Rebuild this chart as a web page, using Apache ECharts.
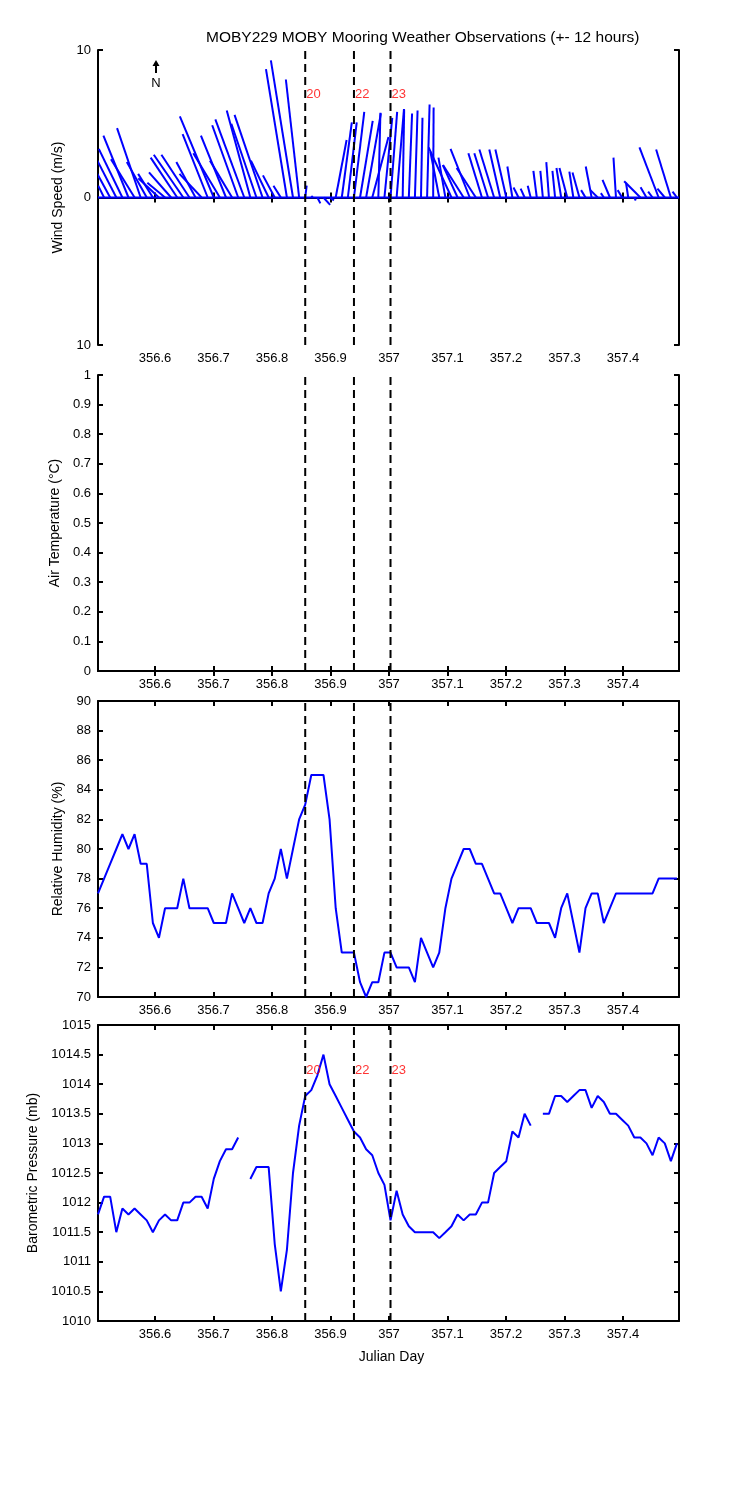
<!DOCTYPE html>
<html><head><meta charset="utf-8">
<script src="https://cdn.jsdelivr.net/npm/echarts@6/dist/echarts.min.js"></script>
<style>html,body{margin:0;padding:0;background:#fff}#c{width:750px;height:1500px}</style>
</head><body><div id="c"></div>
<script>
// ---------- DATA ----------
const titleText = 'MOBY229 MOBY Mooring Weather Observations (+- 12 hours)';
const xTickDays = [356.6, 356.7, 356.8, 356.9, 357.0, 357.1, 357.2, 357.3, 357.4];
const eventDays = [356.8568, 356.9401, 357.0026];
const eventLabels = ['20', '22', '23'];
const times = [
356.5026,356.5130,356.5234,356.5339,356.5443,356.5547,356.5651,356.5755,356.5859,356.5964,
356.6068,356.6172,356.6276,356.6380,356.6484,356.6589,356.6693,356.6797,356.6901,356.7005,
356.7109,356.7214,356.7318,356.7422,356.7526,356.7630,356.7734,356.7839,356.7943,356.8047,
356.8151,356.8255,356.8359,356.8464,356.8568,356.8672,356.8776,356.8880,356.8984,356.9089,
356.9193,356.9297,356.9401,356.9505,356.9609,356.9714,356.9818,356.9922,357.0026,357.0130,
357.0234,357.0339,357.0443,357.0547,357.0651,357.0755,357.0859,357.0964,357.1068,357.1172,
357.1276,357.1380,357.1484,357.1589,357.1693,357.1797,357.1901,357.2005,357.2109,357.2214,
357.2318,357.2422,357.2526,357.2630,357.2734,357.2839,357.2943,357.3047,357.3151,357.3255,
357.3359,357.3464,357.3568,357.3672,357.3776,357.3880,357.3984,357.4089,357.4193,357.4297,
357.4401,357.4505,357.4609,357.4714,357.4818,357.4922];
// wind components (m/s): east (u) and north (v)
const windU = [
-0.5,-0.4,-1.2,-1.8,-1.6,-1.7,-1.6,-1.6,-1.35,-1.0,
-1.4,-1.2,-1.5,-1.8,-2.0,-1.9,-1.3,-1.5,-1.7,-2.3,
-1.8,-1.7,-1.5,-1.76,-1.96,-1.6,-1.7,-1.9,-1.2,-0.8,
-0.5,-1.42,-1.5,-0.9,0.1,0.1,0.2,0.45,0.3,0.74,
0.68,0.6,0.7,0.86,1.0,1.1,0.14,0.53,0.45,0.5,
0.1,0.22,0.18,0.1,0.17,0.03,-0.6,-0.47,-1.55,-1.0,
-1.4,-1.3,-1.3,-0.92,-0.93,-1.0,-0.74,-0.74,-0.34,-0.34,
-0.27,-0.2,-0.23,-0.17,-0.18,-0.18,-0.32,-0.53,-0.27,-0.47,
-0.3,-0.4,-0.5,-0.2,-0.5,-0.17,-0.3,-0.15,0.1,-1.1,
-0.4,-0.3,-1.3,-0.5,-1.0,-0.3];
const windV = [
0.8,0.8,2.2,3.5,3.3,4.2,2.6,4.7,2.4,1.6,
1.3,1.0,1.7,2.7,2.9,2.9,2.4,1.6,4.3,5.5,
3.0,4.2,2.5,4.9,5.3,5.9,5.0,5.6,2.5,1.5,
0.8,8.7,9.3,8.0,0.8,0.1,-0.4,-0.5,-0.2,3.9,
5.1,5.1,5.8,5.2,5.7,4.1,5.75,5.4,5.8,6.0,
5.95,5.7,5.9,5.4,6.3,6.1,3.1,2.7,3.4,2.2,
2.2,3.3,2.0,3.0,3.0,3.25,3.25,3.25,2.1,0.68,
0.6,0.8,1.8,1.8,2.4,1.8,2.0,2.0,1.75,1.7,
0.5,2.1,0.5,0.3,1.2,2.7,0.5,1.0,-0.2,1.1,
0.7,0.4,3.4,0.6,3.25,0.4];
const airTemp = []; // no air temperature data reported
const relHum = [
77,78,79,80,81,80,81,79,79,75,
74,76,76,76,78,76,76,76,76,75,
75,75,77,76,75,76,75,75,77,78,
80,78,80,82,83,85,85,85,82,76,
73,73,73,71,70,71,71,73,73,72,
72,72,71,74,73,72,73,76,78,79,
80,80,79,79,78,77,77,76,75,76,
76,76,75,75,75,74,76,77,75,73,
76,77,77,75,76,77,77,77,77,77,
77,77,78,78,78,78];
const baroPress = [
1011.8,1012.1,1012.1,1011.5,1011.9,1011.8,1011.9,1011.8,1011.7,1011.5,
1011.7,1011.8,1011.7,1011.7,1012.0,1012.0,1012.1,1012.1,1011.9,1012.4,
1012.7,1012.9,1012.9,1013.1,null,1012.4,1012.6,1012.6,1012.6,1011.3,
1010.5,1011.2,1012.5,1013.3,1013.8,1013.9,1014.15,1014.5,1014.0,1013.8,
1013.6,1013.4,1013.2,1013.1,1012.9,1012.8,1012.5,1012.3,1011.7,1012.2,
1011.8,1011.6,1011.5,1011.5,1011.5,1011.5,1011.4,1011.5,1011.6,1011.8,
1011.7,1011.8,1011.8,1012.0,1012.0,1012.5,1012.6,1012.7,1013.2,1013.1,
1013.5,1013.3,null,1013.5,1013.5,1013.8,1013.8,1013.7,1013.8,1013.9,
1013.9,1013.6,1013.8,1013.7,1013.5,1013.5,1013.4,1013.3,1013.1,1013.1,
1013.0,1012.8,1013.1,1013.0,1012.7,1013.0];

// ---------- LAYOUT ----------
const X_MIN = 356.5026, X_MAX = 357.4957;
const FONT = 'Liberation Sans, Arial, sans-serif';
const panels = [
  {top: 50,   ymin: -10,  ymax: 10,   step: 10,  name: 'Wind Speed (m/s)',       gap: 25, fmt: v => String(Math.abs(v))},
  {top: 375,  ymin: 0,    ymax: 1,    step: 0.1, name: 'Air Temperature (\u00B0C)', gap: 27, fmt: v => String(Number(v.toFixed(1)))},
  {top: 701,  ymin: 70,   ymax: 90,   step: 2,   name: 'Relative Humidity (%)',  gap: 26, fmt: v => String(v)},
  {top: 1025, ymin: 1010, ymax: 1015, step: 0.5, name: 'Barometric Pressure (mb)', gap: 53, fmt: v => String(Number(v.toFixed(1)))}
];
const H = 296, L = 98, W = 581;
const axisLine = {show: true, lineStyle: {color: '#000', width: 2}};
const tickStyle = {show: true, inside: true, length: 5, lineStyle: {color: '#000', width: 2}};
const lbl = {color: '#000', fontSize: 13, fontFamily: FONT};
const nameLbl = {color: '#000', fontSize: 14, fontFamily: FONT};

const grid = [], xAxis = [], yAxis = [], series = [];
panels.forEach((p, i) => {
  grid.push({left: L, top: p.top, width: W, height: i === 0 ? 295 : H, containLabel: false});
  xAxis.push({type: 'value', gridIndex: i, min: X_MIN, max: X_MAX, position: 'bottom',
    axisLine, splitLine: {show: false},
    axisTick: Object.assign({customValues: xTickDays}, tickStyle),
    axisLabel: Object.assign({customValues: xTickDays, margin: 7,
      formatter: v => String(Number(v.toFixed(1)))}, lbl),
    name: i === 3 ? 'Julian Day' : '', nameLocation: 'middle', nameGap: 29,
    nameTextStyle: Object.assign({padding: [0, 0, 0, 6]}, nameLbl)});
  xAxis.push({type: 'value', gridIndex: i, min: X_MIN, max: X_MAX, position: 'top',
    axisLine, splitLine: {show: false},
    axisTick: Object.assign({customValues: xTickDays}, tickStyle),
    axisLabel: {show: false}});
  yAxis.push({type: 'value', gridIndex: i, min: p.ymin, max: p.ymax, interval: p.step, position: 'left',
    axisLine, splitLine: {show: false}, axisTick: tickStyle,
    axisLabel: Object.assign({margin: 7, formatter: p.fmt}, lbl),
    name: p.name, nameLocation: 'middle', nameGap: p.gap, nameRotate: 90,
    nameTextStyle: nameLbl});
  yAxis.push({type: 'value', gridIndex: i, min: p.ymin, max: p.ymax, interval: p.step, position: 'right',
    axisLine, splitLine: {show: false}, axisTick: tickStyle, axisLabel: {show: false}});
  // event dashed lines
  eventDays.forEach(d => {
    series.push({type: 'line', xAxisIndex: 2 * i, yAxisIndex: 2 * i, silent: true, symbol: 'none',
      data: [[d, p.ymin], [d, p.ymax]], lineStyle: {color: '#000', width: 2, type: [8, 5]}, z: 5});
  });
});

// wind sticks
series.push({type: 'line', xAxisIndex: 0, yAxisIndex: 0, symbol: 'none', silent: true,
  data: [[X_MIN, 0], [X_MAX, 0]], lineStyle: {color: '#0000ff', width: 2}, z: 3});
series.push({type: 'custom', xAxisIndex: 0, yAxisIndex: 0, clip: true, z: 3,
  data: times.map((t, k) => [t, windU[k], windV[k]]),
  renderItem: (params, api) => {
    const p0 = api.coord([api.value(0), 0]);
    const p1 = api.coord([api.value(0), api.value(2)]);
    const unit = api.size([0, 1])[1];
    return {type: 'line', shape: {x1: p0[0], y1: p0[1], x2: p0[0] + api.value(1) * unit, y2: p1[1]},
      style: {stroke: '#0000ff', lineWidth: 2}};
  }});
// air temperature (empty)
series.push({type: 'line', xAxisIndex: 2, yAxisIndex: 2, symbol: 'none',
  data: airTemp.map((v, k) => [times[k], v]), lineStyle: {color: '#0000ff', width: 2}});
// humidity
series.push({type: 'line', xAxisIndex: 4, yAxisIndex: 4, symbol: 'none', z: 3,
  data: relHum.map((v, k) => [times[k], v]), lineStyle: {color: '#0000ff', width: 2}});
// pressure
series.push({type: 'line', xAxisIndex: 6, yAxisIndex: 6, symbol: 'none', z: 3, connectNulls: false,
  data: baroPress.map((v, k) => [times[k], v]), lineStyle: {color: '#0000ff', width: 2}});
// event labels
[[0, 7.0], [6, 1014.23]].forEach(([ax, yv]) => {
  series.push({type: 'scatter', xAxisIndex: ax, yAxisIndex: ax, symbolSize: 0, silent: true, z: 6,
    data: eventDays.map((d, k) => ({value: [d, yv], name: eventLabels[k]})),
    label: {show: true, position: 'right', distance: 1, formatter: q => q.name,
      color: '#ff0000', fontSize: 13, fontFamily: FONT}});
});

const chart = echarts.init(document.getElementById('c'), null, {renderer: 'canvas'});
chart.setOption({
  animation: false,
  backgroundColor: '#fff',
  title: {text: titleText, left: 201, top: 25,
    textStyle: {color: '#000', fontSize: 15.5, fontWeight: 'normal', fontFamily: FONT}},
  grid, xAxis, yAxis, series,
  graphic: [
    {type: 'line', shape: {x1: 156, y1: 73, x2: 156, y2: 64}, style: {stroke: '#000', lineWidth: 2}},
    {type: 'polygon', shape: {points: [[156, 60], [152.5, 66], [159.5, 66]]}, style: {fill: '#000'}},
    {type: 'text', x: 156, y: 83, style: {text: 'N', fill: '#000', fontSize: 13, fontFamily: FONT,
      align: 'center', verticalAlign: 'middle'}}
  ]
});
</script></body></html>
